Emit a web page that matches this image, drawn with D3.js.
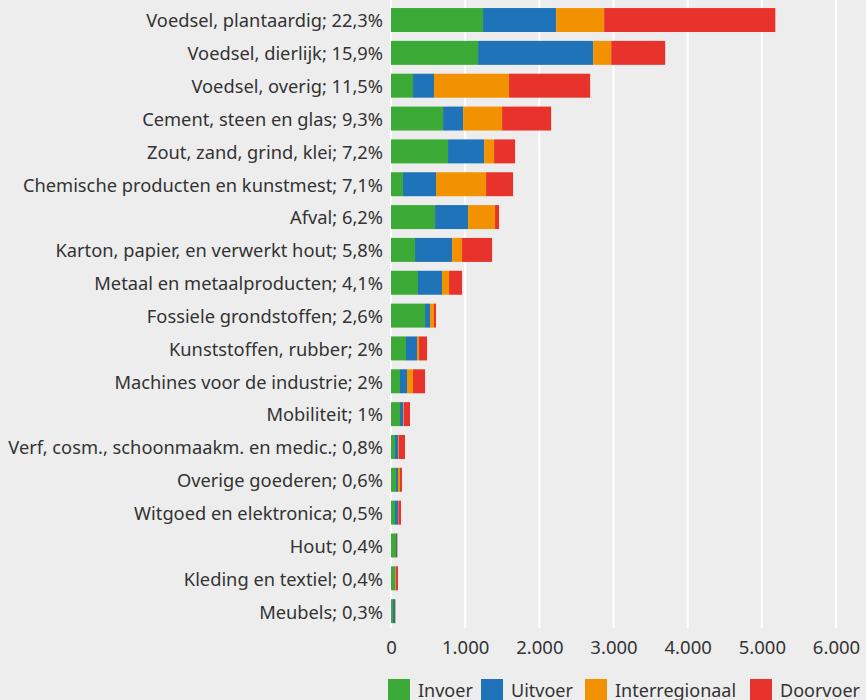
<!DOCTYPE html>
<html><head><meta charset="utf-8">
<script src="https://cdn.jsdelivr.net/npm/d3@7"></script>
<style>
html,body{margin:0;padding:0;background:#ededed;}
svg{display:block;font-family:"Noto Sans",sans-serif;}
</style></head>
<body>
<svg id="chart" width="866" height="700"></svg>
<script>
const categories = [
  "Voedsel, plantaardig; 22,3%",
  "Voedsel, dierlijk; 15,9%",
  "Voedsel, overig; 11,5%",
  "Cement, steen en glas; 9,3%",
  "Zout, zand, grind, klei; 7,2%",
  "Chemische producten en kunstmest; 7,1%",
  "Afval; 6,2%",
  "Karton, papier, en verwerkt hout; 5,8%",
  "Metaal en metaalproducten; 4,1%",
  "Fossiele grondstoffen; 2,6%",
  "Kunststoffen, rubber; 2%",
  "Machines voor de industrie; 2%",
  "Mobiliteit; 1%",
  "Verf, cosm., schoonmaakm. en medic.; 0,8%",
  "Overige goederen; 0,6%",
  "Witgoed en elektronica; 0,5%",
  "Hout; 0,4%",
  "Kleding en textiel; 0,4%",
  "Meubels; 0,3%"
];
const seriesNames = ["Invoer", "Uitvoer", "Interregionaal", "Doorvoer"];
const invoer        = [1241, 1174, 297, 702, 769, 162, 594, 324, 364, 459, 202, 121, 121, 54, 67, 54, 67, 54, 27];
const uitvoer       = [ 986, 1552, 283, 270, 486, 445, 445, 499, 324,  67, 149,  95,  41, 40, 27, 40, 14,  4, 27];
const interregionaal= [ 647,  243,1012, 526, 135, 675, 364, 135,  95,  54,  27,  81,   9,  9, 27,  5,  9,  5,  9];
const doorvoer      = [2308,  728,1093, 661, 283, 364,  54, 405, 175,  27, 108, 162,  85, 86, 27, 36,  0, 31,  0];
const xTicks = [0, 1000, 2000, 3000, 4000, 5000, 6000];
const colors = ["#3caa36", "#1f73b8", "#f39200", "#e8332c"];

const rows = categories.map((c, i) => ({
  cat: c, Invoer: invoer[i], Uitvoer: uitvoer[i],
  Interregionaal: interregionaal[i], Doorvoer: doorvoer[i]
}));

const svg = d3.select("#chart");
const x = d3.scaleLinear().domain([0, 6000]).range([391, 836]);
const y = d3.scaleBand().domain(categories).range([3.6, 627.6]).paddingInner(0.27).paddingOuter(0.135);
const color = d3.scaleOrdinal().domain(seriesNames).range(colors);

// gridlines
svg.append("g").selectAll("line").data(xTicks).join("line")
  .attr("x1", d => x(d)).attr("x2", d => x(d))
  .attr("y1", 0).attr("y2", 628)
  .attr("stroke", "#ffffff").attr("stroke-width", 2);

const stack = d3.stack().keys(seriesNames)(rows);
svg.append("g").selectAll("g").data(stack).join("g")
  .attr("fill", d => color(d.key))
  .selectAll("rect").data(d => d).join("rect")
  .attr("x", d => x(d[0]))
  .attr("width", d => Math.max(0, x(d[1]) - x(d[0])))
  .attr("y", d => y(d.data.cat))
  .attr("height", y.bandwidth());

// y axis labels
const yAxis = d3.axisLeft(y).tickSize(0).tickPadding(8);
const yg = svg.append("g").attr("transform", "translate(391,1.5)").call(yAxis);
yg.select(".domain").remove();
yg.selectAll("text").attr("font-size", 18.3).attr("fill", "#333").attr("font-family", "Noto Sans");

// x axis labels
const xAxis = d3.axisBottom(x).tickValues(xTicks).tickSize(0).tickPadding(13)
  .tickFormat(d => d3.format(",")(d).replace(/,/g, "."));
const xg = svg.append("g").attr("transform", "translate(0,628)").call(xAxis);
xg.select(".domain").remove();
xg.selectAll("text").attr("font-size", 18.5).attr("fill", "#333").attr("font-family", "Noto Sans");

// legend
const legendX = [388, 481, 585, 750];
const lg = svg.append("g").selectAll("g").data(seriesNames).join("g")
  .attr("transform", (d, i) => `translate(${legendX[i]},679)`);
lg.append("rect").attr("width", 22).attr("height", 22).attr("fill", d => color(d));
lg.append("text").attr("x", 30).attr("y", 12).attr("dy", "0.35em")
  .attr("font-size", 18).attr("fill", "#333").text(d => d);
</script>
</body></html>
